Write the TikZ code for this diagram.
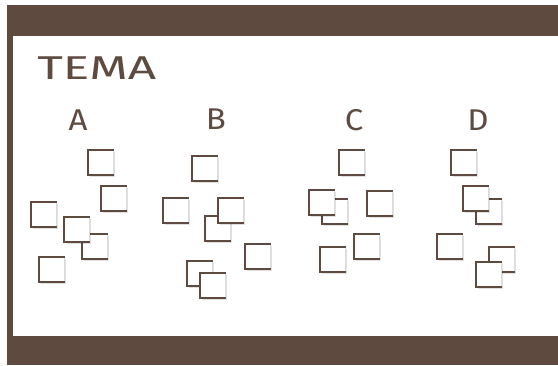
\documentclass[tikz,border=0pt]{standalone}
\usepackage{fontspec}
\setmainfont{Fira Sans}
\usetikzlibrary{shadows}
\definecolor{bark}{RGB}{94,74,62}
\tikzset{
  note/.style={minimum width=25pt, minimum height=25pt, inner sep=0pt, outer sep=0pt,
    anchor=north west, fill=white, draw=black!14, line width=0.8pt,
    drop shadow={shadow xshift=1.6pt, shadow yshift=-1.8pt, fill=black, opacity=0.12}},
  noteedge/.style={draw=bark, line width=1.5pt, line cap=rect},
  hand/.style={text=bark, font=\fontsize{30}{30}\selectfont, inner sep=0pt},
  band/.style={fill=bark, draw=none}
}
\newcommand\stickynote[2]{%
  \node[note] (#1) at (#2) {};
  \draw[noteedge] (#1.north east) -- (#1.north west) -- (#1.south west) -- (#1.south east);}
\begin{document}
\begin{tikzpicture}[x=1pt, y=-1pt]
\useasboundingbox (0,0) rectangle (558,365);
\fill[white] (0,0) rectangle (558,365);
% board frame
\fill[band] (7,5) rectangle (558,36);
\fill[band] (7,336) rectangle (558,365);
\fill[band] (7,5) rectangle (13,365);
% titles
\node[hand, anchor=base west, xscale=1.65, yscale=1.1, transform shape] (tema) at (37,79) {TEMA};
\node[hand, anchor=base, xscale=1.1, transform shape] (la) at (78,130) {A};
\node[hand, anchor=base, xscale=1.1, transform shape] (lb) at (216,129) {B};
\node[hand, anchor=base, xscale=1.1, transform shape] (lc) at (354,130) {C};
\node[hand, anchor=base, xscale=1.1, transform shape] (ld) at (478,130) {D};
% group A
\stickynote{a1}{88,150}
\stickynote{a2}{101,186}
\stickynote{a3}{31,202}
\stickynote{a5}{82,234}
\stickynote{a4}{64,217}
\stickynote{a6}{39,257}
% group B
\stickynote{b1}{192,156}
\stickynote{b2}{163,198}
\stickynote{b3}{205,216}
\stickynote{b4}{218,198}
\stickynote{b5}{245,244}
\stickynote{b6}{187,261}
\stickynote{b7}{200,273}
% group C
\stickynote{c1}{339,150}
\stickynote{c3}{322,199}
\stickynote{c2}{309,190}
\stickynote{c4}{367,191}
\stickynote{c5}{354,234}
\stickynote{c6}{320,247}
% group D
\stickynote{d1}{451,150}
\stickynote{d3}{476,199}
\stickynote{d2}{463,186}
\stickynote{d4}{437,234}
\stickynote{d5}{489,247}
\stickynote{d6}{476,262}
\end{tikzpicture}
\end{document}
